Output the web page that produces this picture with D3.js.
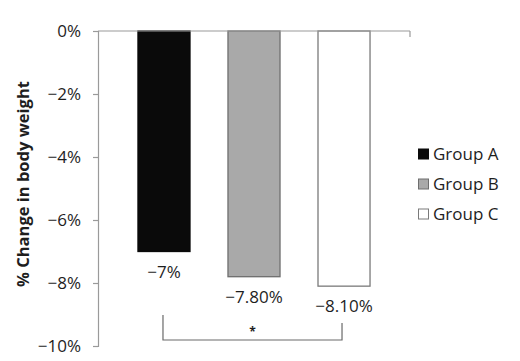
<!DOCTYPE html>
<html>
  <head>
    <meta charset="utf-8">
    <title>% Change in body weight</title>
    <script src="https://d3js.org/d3.v7.min.js"></script>
    <style>
      body { margin: 0; background: #fff; }
      svg text { font-family: "Open Sans", sans-serif; fill: #1e1e1e; }
    </style>
  </head>
  <body>
    <svg id="chart" width="520" height="361"></svg>
    <script>
      // data
      groups = ["Group A", "Group B", "Group C"];
      values = [-7, -7.8, -8.1];
      valueLabels = ["\u22127%", "\u22127.80%", "\u22128.10%"];
      fills = ["#0a0a0a", "#a9a9a9", "#ffffff"];
      strokes = ["#0a0a0a", "#6e6e6e", "#7a7a7a"];
      yTicks = [0, -2, -4, -6, -8, -10];
      // significance bracket between A and C
      bracket = { from: "Group A", to: "Group C", label: "*" };

      svg = d3.select("#chart");
      x = d3.scaleBand()
        .domain(groups)
        .range([98, 410])
        .paddingInner(0.422)
        .paddingOuter(0.444);
      y = d3.scaleLinear()
        .domain([0, -10])
        .range([31, 346]);

      // y axis
      yAxis = d3.axisLeft(y)
        .tickValues(yTicks)
        .tickSize(5)
        .tickFormat(function(d) { return d == 0 ? "0%" : "\u2212" + Math.abs(d) + "%"; });
      gy = svg.append("g")
        .attr("transform", "translate(98,0)")
        .call(yAxis);
      gy.select(".domain").attr("stroke", "#9a9a9a").attr("stroke-width", 1.2);
      gy.selectAll(".tick line").attr("stroke", "#9a9a9a").attr("stroke-width", 1.2);
      gy.selectAll(".tick text")
        .attr("x", -17)
        .attr("dy", "0.34em")
        .style("font-size", "17px")
        .style("font-family", "'Open Sans', sans-serif")
        .attr("fill", "#1e1e1e");

      // bars
      svg.selectAll(".bar")
          .data(groups)
        .enter().append("rect")
          .classed("bar", true)
          .attr("x", function(d) { return x(d); })
          .attr("y", y(0))
          .attr("width", x.bandwidth())
          .attr("height", function(d, i) { return y(values[i]) - y(0); })
          .attr("fill", function(d, i) { return fills[i]; })
          .attr("stroke", function(d, i) { return strokes[i]; })
          .attr("stroke-width", 1.3);

      // category axis along 0%
      svg.append("line")
        .attr("x1", 98).attr("x2", 410)
        .attr("y1", y(0)).attr("y2", y(0))
        .attr("stroke", "#9a9a9a").attr("stroke-width", 1.2);
      svg.append("line")
        .attr("x1", 410).attr("x2", 410)
        .attr("y1", y(0)).attr("y2", y(0) + 6)
        .attr("stroke", "#9a9a9a").attr("stroke-width", 1.2);

      // value labels
      svg.selectAll(".valueLabel")
          .data(groups)
        .enter().append("text")
          .classed("valueLabel", true)
          .attr("x", function(d) { return x(d) + x.bandwidth() / 2; })
          .attr("y", function(d, i) { return y(values[i]) + 26; })
          .attr("text-anchor", "middle")
          .style("font-size", "17px")
          .text(function(d, i) { return valueLabels[i]; });

      // significance bracket
      bx1 = x(bracket.from) + x.bandwidth() / 2 - 1;
      bx2 = x(bracket.to) + x.bandwidth() / 2 - 2;
      svg.append("path")
        .attr("d", "M" + bx1 + "," + 315 + "V" + 340 + "H" + bx2 + "V" + 323)
        .attr("fill", "none")
        .attr("stroke", "#6a6a6a")
        .attr("stroke-width", 1.2);
      svg.append("text")
        .attr("x", (bx1 + bx2) / 2)
        .attr("y", 336)
        .attr("text-anchor", "middle")
        .style("font-size", "12px")
        .style("font-weight", "bold")
        .text(bracket.label);

      // y title
      svg.append("text")
        .attr("transform", "translate(29,184) rotate(-90)")
        .attr("text-anchor", "middle")
        .style("font-size", "16.5px")
        .style("font-weight", "bold")
        .text("% Change in body weight");

      // legend
      legendY = [154, 184, 214];
      legend = svg.selectAll(".legend")
          .data(groups)
        .enter().append("g")
          .classed("legend", true)
          .attr("transform", function(d, i) { return "translate(418," + legendY[i] + ")"; });
      legend.append("rect")
        .attr("x", 0.5).attr("y", -5)
        .attr("width", 10).attr("height", 10)
        .attr("fill", function(d, i) { return fills[i]; })
        .attr("stroke", function(d, i) { return strokes[i]; })
        .attr("stroke-width", 1);
      legend.append("text")
        .attr("x", 15)
        .attr("y", 0)
        .attr("dy", "0.36em")
        .style("font-size", "17px")
        .text(function(d) { return d; });
    </script>
  </body>
</html>
